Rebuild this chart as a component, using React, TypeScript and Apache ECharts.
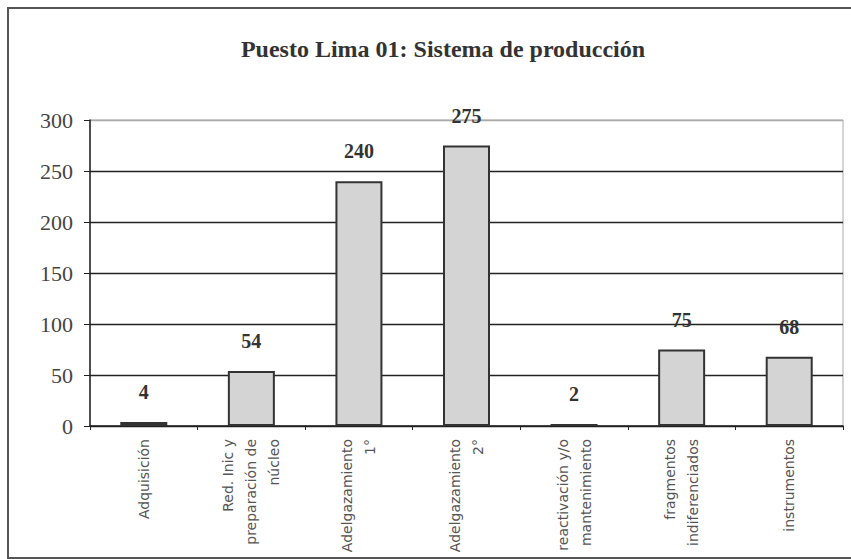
import React, { useEffect, useRef } from "react";
import * as echarts from "echarts";

const categories = [
  "Adquisición",
  "Red. Inic y\npreparación de\nnúcleo",
  "Adelgazamiento\n1°",
  "Adelgazamiento\n2°",
  "reactivación y/o\nmantenimiento",
  "fragmentos\nindiferenciados",
  "instrumentos",
];
const values = [4, 54, 240, 275, 2, 75, 68];
const yTicks = { min: 0, max: 300, interval: 50 };
const titleText = "Puesto Lima 01: Sistema de producción";

export default function App() {
  const ref = useRef<HTMLDivElement>(null);
  useEffect(() => {
    if (!ref.current) return;
    const chart = echarts.init(ref.current, null, { renderer: "svg" });
    chart.setOption({
      animation: false,
      backgroundColor: "#fff",
      title: {
        text: titleText,
        left: 438,
        top: 32,
        textAlign: "center",
        textStyle: {
          fontFamily: "Liberation Serif, Times New Roman, serif",
          fontSize: 24,
          fontWeight: "bold",
          color: "#333",
        },
      },
      graphic: [
        {
          type: "rect",
          shape: { x: 8, y: 8, width: 852, height: 550 },
          style: { fill: "none", stroke: "#555", lineWidth: 2 },
          silent: true,
        },
      ],
      grid: {
        left: 90,
        right: 8,
        top: 120,
        bottom: 133,
        show: true,
        borderColor: "#aaa",
        borderWidth: 1,
      },
      xAxis: {
        type: "category",
        data: categories,
        axisLine: { lineStyle: { color: "#222", width: 1.5 } },
        axisTick: { show: true, length: 4, lineStyle: { color: "#222" } },
        axisLabel: {
          rotate: 90,
          interval: 0,
          margin: 13,
          fontFamily: "DejaVu Sans, sans-serif",
          fontSize: 14,
          lineHeight: 23,
          color: "#555",
        },
      },
      yAxis: {
        type: "value",
        min: yTicks.min,
        max: yTicks.max,
        interval: yTicks.interval,
        axisLine: { show: true, lineStyle: { color: "#222", width: 1.5 } },
        axisTick: { show: true, length: 6, lineStyle: { color: "#222" } },
        axisLabel: {
          margin: 17,
          fontFamily: "Liberation Serif, Times New Roman, serif",
          fontSize: 22,
          color: "#444",
        },
        splitLine: {
          show: true,
          lineStyle: {
            color: ["#222", "#222", "#222", "#222", "#222", "#222", "#aaa"],
            width: 1.3,
          },
        },
      },
      series: [
        {
          type: "bar",
          data: values,
          barWidth: 47,
          itemStyle: {
            color: "#d4d4d4",
            borderColor: "#333",
            borderWidth: 2,
          },
          label: {
            show: true,
            position: "top",
            distance: 20,
            fontFamily: "Liberation Serif, Times New Roman, serif",
            fontSize: 20,
            fontWeight: "bold",
            color: "#333",
          },
        },
      ],
    });
    return () => chart.dispose();
  }, []);
  return (
    <div
      ref={ref}
      style={{ position: "fixed", left: 0, top: 0, width: 851, height: 559 }}
    />
  );
}
